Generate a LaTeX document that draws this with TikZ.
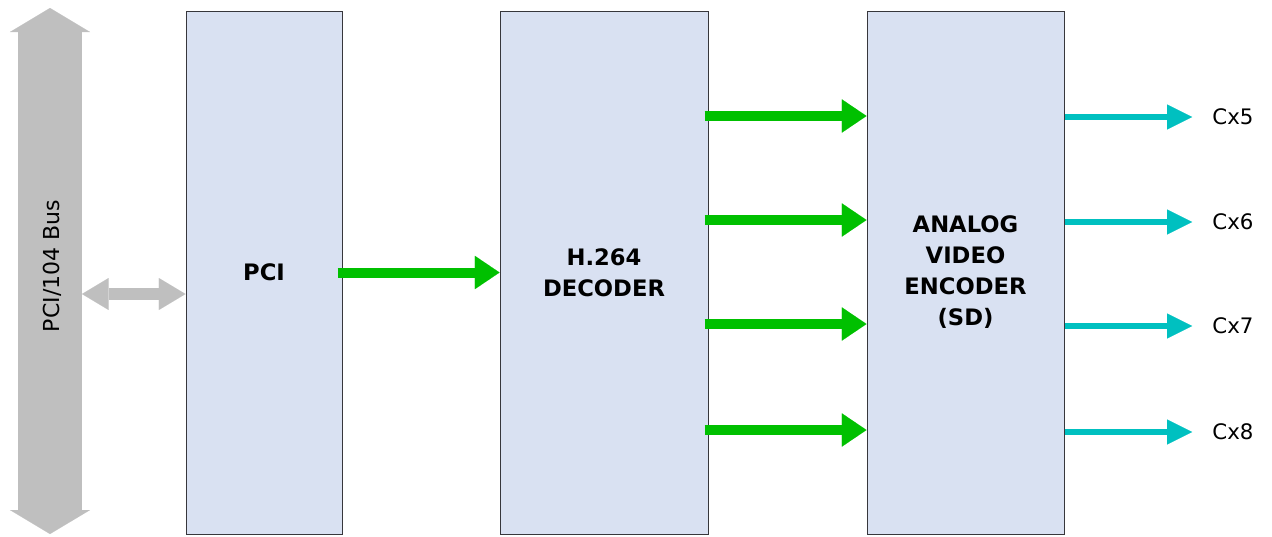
\documentclass[tikz,border=0pt]{standalone}
\usepackage{fontspec}
\setmainfont{DejaVu Sans}
\usepackage{tikz}
\usetikzlibrary{arrows.meta, positioning}
\definecolor{boxfill}{RGB}{217,225,242}
\definecolor{boxline}{RGB}{55,55,60}
\definecolor{busgray}{RGB}{191,191,191}
\definecolor{datagreen}{RGB}{0,192,0}
\definecolor{outcyan}{RGB}{0,192,192}

\begin{document}
\begin{tikzpicture}[
        x=0.75pt, y=-0.75pt,
        base/.style    ={draw=boxline, fill=boxfill, line width=0.75pt, align=center,
                         font=\bfseries\fontsize{17}{23.25}\selectfont, minimum height=392.25pt},
        pcibox/.style  ={base, minimum width=117pt},
        decbox/.style  ={base, minimum width=156pt},
        encbox/.style  ={base, minimum width=147.75pt},
        buslabel/.style={font=\fontsize{16.5}{19}\selectfont, rotate=90},
        outlabel/.style={font=\fontsize{16}{19}\selectfont, inner xsep=15pt},
        busarrow/.style ={busgray, line width=48pt,
                          {Triangle[length=18pt, width=60pt, line width=0.01pt]}-{Triangle[length=18pt, width=60pt, line width=0.01pt]}},
        linkarrow/.style={busgray, line width=9pt,
                          {Triangle[length=20pt, width=24pt, line width=0.01pt]}-{Triangle[length=20pt, width=24pt, line width=0.01pt]}},
        dataarrow/.style={datagreen, line width=7.5pt,
                          -{Triangle[length=18.5pt, width=25pt, line width=0.01pt]}},
        outarrow/.style ={outcyan, line width=4.5pt,
                          -{Triangle[length=18.75pt, width=18.75pt, line width=0.01pt]}}
    ]
    \useasboundingbox (0,0) rectangle (1272,536);

    % --- barramento ---
    \coordinate (bustop)  at (50,8);
    \coordinate (busbot)  at (50,534);
    \coordinate (busport) at (82,294);
    \draw[busarrow] (bustop) -- (busbot);
    \node[buslabel] (bus) at (52,266) {PCI/104 Bus};

    % --- blocos ---
    \node[pcibox] (pci) at (264,272.5) {PCI};
    \node[decbox] (dec) at (604,272.5) {H.264\\DECODER};
    \node[encbox] (enc) at (965.5,272.5) {ANALOG\\VIDEO\\ENCODER\\(SD)};

    % --- setas ---
    \draw[linkarrow] (busport) -- (pci.west |- busport);
    \draw[dataarrow] ([xshift=-3.75pt]pci.east) -- (dec);
    \foreach \y in {116,220,324,430}
        \draw[dataarrow] ([xshift=-3pt]dec.east |- 0,\y) -- (enc.west |- 0,\y);

    % --- saídas ---
    \foreach \n/\y in {5/117, 6/222, 7/326, 8/432} {
        \node[outlabel] (cx\n) at (1233,\y) {Cx\n};
        \draw[outarrow] (enc.east |- cx\n) -- (cx\n.west);
    }

\end{tikzpicture}
\end{document}
